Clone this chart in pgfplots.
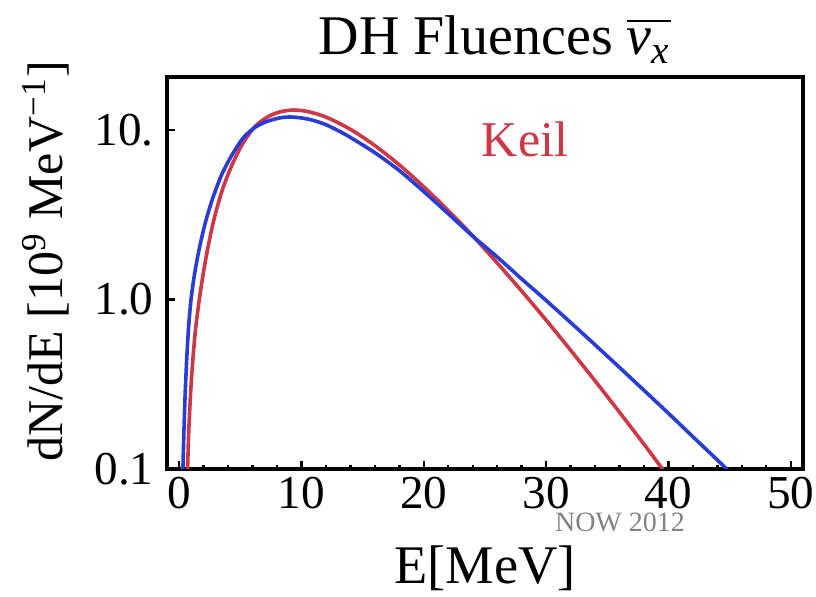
\documentclass[border=0pt]{standalone}
\usepackage{fontspec}
\setmainfont{Liberation Serif}
\usepackage{amsmath}
\usepackage{pgfplots}
\pgfplotsset{compat=1.18}
\definecolor{cred}{RGB}{205,55,70}
\definecolor{cblue}{RGB}{40,60,215}
\definecolor{cgrey}{RGB}{130,130,130}
\begin{document}
\fontsize{12.5}{15}\selectfont
\begin{tikzpicture}
\path[use as bounding box] (0pt,0pt) rectangle (204pt,149.25pt);
\begin{axis}[at={(41.75pt,32pt)}, anchor=south west, scale only axis,
  width=159pt, height=98pt,
  xmin=-1, xmax=51, ymode=log, ymin=0.1, ymax=20.5,
  xtick={0,10,20,30,40,50}, minor x tick num=4,
  ytick={0.1,1,10}, yticklabels={0.1,1.0,10.},
  yminorticks=false,
  tick pos=left, tick align=inside,
  major tick length=2pt, minor tick length=1.1pt,
  axis line style={line width=0.8pt},
  every tick/.style={line width=0.6pt,black},
  tick label style={font=\fontsize{11.8}{14}\selectfont},
  xticklabel style={inner sep=0pt, yshift=-1.9pt},
  yticklabel style={xshift=1pt},
  /pgf/number format/assume math mode=true,
  clip=true]
\addplot[cred, line width=0.9pt, smooth] coordinates {
(0.62,0.074) (0.68,0.100) (0.8,0.182) (1.0,0.339) (1.3,0.631) (1.7,1.07)
(2.2,1.78) (2.8,2.88) (3.5,4.37) (4.3,6.17) (5.2,8.32) (6.2,10.47)
(7.2,11.89) (8.2,12.74) (9.3,13.09) (10.5,12.82) (12,11.89) (14,10.07)
(16,8.07) (18,6.21) (20,4.61) (22,3.34) (24,2.37) (26,1.64) (28,1.12)
(30,0.755) (32,0.502) (34,0.331) (36,0.216) (38,0.140) (40,0.0897)
};
\addplot[cblue, line width=0.9pt, smooth] coordinates {
(0.27,0.083) (0.3,0.100) (0.4,0.182) (0.5,0.295) (0.65,0.501) (0.8,0.741)
(1.0,1.05) (1.3,1.48) (1.7,2.09) (2.2,2.95) (2.8,4.07) (3.5,5.50)
(4.3,7.08) (5.2,8.91) (6.2,10.35) (7.2,11.22) (8.2,11.75) (9.0,11.91)
(10,11.75) (11,11.35) (12,10.72) (13,9.89) (14,9.02) (16,7.33) (18,5.75)
(20,4.32) (22,3.20) (24,2.36) (26,1.78) (28,1.32) (30,0.986) (32,0.731)
(34,0.540) (36,0.397) (38,0.291) (40,0.213) (42,0.155) (44,0.113) (45.4,0.0902)
};
\end{axis}
\node[anchor=base,font=\fontsize{14}{16}\selectfont] at (123.75pt,135.5pt) {DH Fluences $\overline{\text{\itshape ν}_{\text{\itshape x}}}$};
\node[anchor=base,font=\fontsize{13.6}{16}\selectfont] at (121.25pt,3.25pt) {E[MeV]};
\node[rotate=90,anchor=base] at (15.75pt,84pt) {dN/dE [10\textsuperscript{9} MeV\textsuperscript{−1}]};
\node[anchor=base,text=cred] at (131.25pt,110pt) {Keil};
\node[anchor=base,text=cgrey,inner sep=0pt,font=\fontsize{7}{8}\selectfont] at (155pt,16.4pt) {NOW 2012};
\end{tikzpicture}
\end{document}
